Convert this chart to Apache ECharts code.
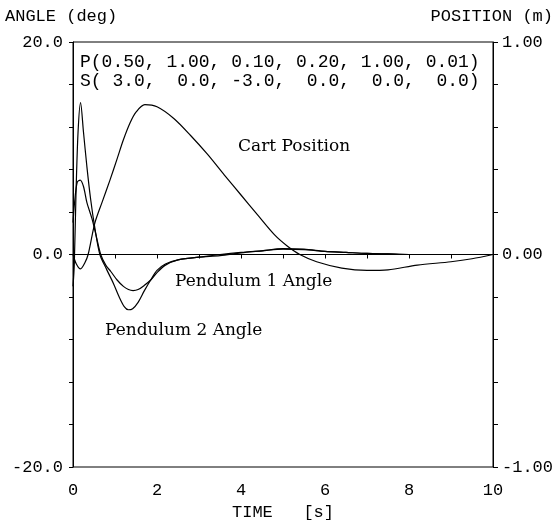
<!DOCTYPE html>
<html>
<head>
<meta charset="utf-8">
<script src="https://cdn.jsdelivr.net/npm/echarts@6/dist/echarts.min.js"></script>
<style>
  html, body { margin: 0; padding: 0; background: #fff; }
  #chart { width: 557px; height: 522px; }
</style>
</head>
<body>
<div id="chart"></div>
<script>
// time samples (s) and values
const cartTime = [0, 0.08, 0.18, 0.28, 0.36, 0.52, 0.7, 0.88, 1.05, 1.2, 1.36, 1.5, 1.71, 2.0, 2.4, 2.8, 3.2, 3.6, 4.0, 4.4, 4.8, 5.1, 5.4, 5.8, 6.4, 7.0, 7.5, 8.2, 9.0, 9.5, 10]
const cartPos = [0, -0.045, -0.068, -0.04, 0.0, 0.148, 0.25, 0.35, 0.45, 0.54, 0.62, 0.67, 0.705, 0.695, 0.64, 0.56, 0.472, 0.375, 0.28, 0.185, 0.092, 0.04, 0.0, -0.034, -0.064, -0.075, -0.072, -0.05, -0.034, -0.02, 0]

const pend1Time = [0, 0.04, 0.1, 0.17, 0.25, 0.33, 0.45, 0.55, 0.66, 0.78, 0.9, 1.05, 1.2, 1.32, 1.43, 1.55, 1.7, 1.85, 2.0, 2.2, 2.5, 3.0, 3.5, 4.0, 4.5, 5.0, 5.5, 6.0, 6.5, 7.0, 7.5, 8, 9, 10]
const pend1Angle = [3.0, 5.0, 6.8, 7.0, 6.4, 4.9, 3.4, 1.8, 0.0, -1.0, -1.6, -2.4, -3.0, -3.3, -3.4, -3.3, -2.9, -2.4, -1.7, -1.0, -0.5, -0.25, 0.0, 0.2, 0.35, 0.5, 0.45, 0.3, 0.2, 0.1, 0.05, 0, 0, 0]

const pend2Time = [0, 0.03, 0.07, 0.12, 0.18, 0.25, 0.33, 0.42, 0.52, 0.64, 0.8, 0.96, 1.1, 1.22, 1.32, 1.42, 1.55, 1.7, 1.85, 2.0, 2.2, 2.5, 3.0, 3.5, 4.0, 4.5, 5.0, 5.5, 6.0, 6.5, 7.0, 7.5, 8, 9, 10]
const pend2Angle = [-3.0, -1.0, 5.5, 11.5, 14.3, 11.5, 8.3, 5.2, 2.5, 0.0, -1.4, -2.7, -4.0, -4.9, -5.2, -5.1, -4.5, -3.4, -2.4, -1.5, -0.9, -0.5, -0.25, -0.1, 0.15, 0.35, 0.55, 0.5, 0.3, 0.2, 0.1, 0.05, 0, 0, 0]

const paramText = 'P(0.50, 1.00, 0.10, 0.20, 1.00, 0.01)'
const stateText = 'S( 3.0,  0.0, -3.0,  0.0,  0.0,  0.0)'

const mono = 'Liberation Mono'
const serif = 'DejaVu Serif'

const zip = (xs, ys) => xs.map((x, i) => [x, ys[i]])

const chart = echarts.init(document.getElementById('chart'))

const lineStyle = { color: '#000', width: 1.2 }

chart.setOption({
  backgroundColor: '#fff',
  animation: false,
  grid: {
    left: 73, right: 64, top: 42, bottom: 55,
    outerBoundsMode: 'none', containLabel: false,
    show: true, borderColor: '#000', borderWidth: 1
  },
  xAxis: {
    type: 'value', min: 0, max: 10, interval: 1,
    name: 'TIME   [s]', nameLocation: 'middle', nameGap: 35,
    nameTextStyle: { fontFamily: mono, fontSize: 17, color: '#000' },
    axisLine: { show: true, lineStyle: { color: '#000' } },
    axisTick: { show: true, length: 4, lineStyle: { color: '#000' } },
    splitLine: { show: false },
    axisLabel: {
      fontFamily: mono, fontSize: 17, color: '#000', margin: 15,
      formatter: v => (Math.round(v) % 2 === 0 ? String(Math.round(v)) : '')
    }
  },
  yAxis: [
    {
      type: 'value', min: -20, max: 20, interval: 4,
      axisLine: { show: true, lineStyle: { color: '#000' } },
      axisTick: { show: true, length: 4, lineStyle: { color: '#000' } },
      splitLine: { show: false },
      axisLabel: {
        fontFamily: mono, fontSize: 17, color: '#000', margin: 10,
        formatter: v => (Math.abs(v) % 20 === 0 ? v.toFixed(1) : '')
      }
    },
    {
      type: 'value', min: -1, max: 1, interval: 0.2, position: 'right',
      axisLine: { show: true, lineStyle: { color: '#000' } },
      axisTick: { show: true, length: 5, lineStyle: { color: '#000' } },
      splitLine: { show: false },
      axisLabel: {
        fontFamily: mono, fontSize: 17, color: '#000', margin: 9,
        formatter: v => (Math.abs(Math.round(v) - v) < 1e-6 ? Math.round(v).toFixed(2) : '')
      }
    }
  ],
  graphic: [
    { type: 'text', left: 5, top: 8, style: { text: 'ANGLE (deg)', font: '17px ' + mono, fill: '#000' } },
    { type: 'text', right: 4, top: 8, style: { text: 'POSITION (m)', font: '17px ' + mono, fill: '#000' } },
    { type: 'text', left: 80, top: 53, style: { text: paramText, font: '18px ' + mono, fill: '#000' } },
    { type: 'text', left: 80, top: 72, style: { text: stateText, font: '18px ' + mono, fill: '#000' } },
    { type: 'text', left: 238, top: 138, style: { text: 'Cart Position', font: '17px ' + serif, fill: '#000' } },
    { type: 'text', left: 175, top: 273, style: { text: 'Pendulum 1 Angle', font: '17px ' + serif, fill: '#000' } },
    { type: 'text', left: 105, top: 322, style: { text: 'Pendulum 2 Angle', font: '17px ' + serif, fill: '#000' } }
  ],
  series: [
    {
      name: 'Cart Position', type: 'line', yAxisIndex: 1,
      data: zip(cartTime, cartPos), smooth: 0.3, showSymbol: false, lineStyle
    },
    {
      name: 'Pendulum 1 Angle', type: 'line', yAxisIndex: 0,
      data: zip(pend1Time, pend1Angle), smooth: 0.3, showSymbol: false, lineStyle,
      markLine: {
        silent: true, symbol: 'none', label: { show: false },
        lineStyle: { color: '#000', type: [3, 3], width: 1 },
        data: [{ yAxis: 0 }]
      }
    },
    {
      name: 'Pendulum 2 Angle', type: 'line', yAxisIndex: 0,
      data: zip(pend2Time, pend2Angle), smooth: 0.3, showSymbol: false, lineStyle
    }
  ]
})
</script>
</body>
</html>
